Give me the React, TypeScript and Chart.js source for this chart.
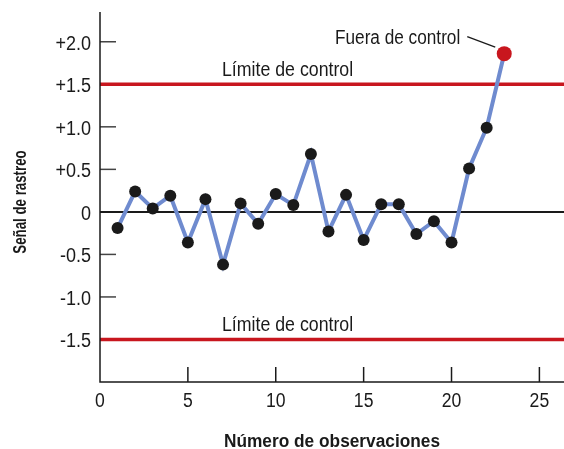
import React, { useEffect, useRef } from "react";
import { Chart, registerables } from "chart.js";

Chart.register(...registerables);

// ---- Data ----
const observations = [1, 2, 3, 4, 5, 6, 7, 8, 9, 10, 11, 12, 13, 14, 15, 16, 17, 18, 19, 20, 21, 22, 23];
const trackingSignal = [
  -0.19, 0.24, 0.04, 0.19, -0.36, 0.15, -0.62, 0.1, -0.14, 0.21, 0.08, 0.68,
  -0.23, 0.2, -0.33, 0.09, 0.09, -0.26, -0.11, -0.36, 0.51, 0.99, 1.86,
];
const yTickValues = [2.0, 1.5, 1.0, 0.5, 0, -0.5, -1.0, -1.5];
const yTickLabels = ["+2.0", "+1.5", "+1.0", "+0.5", "0", "-0.5", "-1.0", "-1.5"];
const xTickValues = [0, 5, 10, 15, 20, 25];
const xTickLabels = ["0", "5", "10", "15", "20", "25"];
const controlLimits = [1.5, -1.5];
const controlLimitLabel = "Límite de control";
const outOfControlLabel = "Fuera de control";
const xTitle = "Número de observaciones";
const yTitle = "Señal de rastreo";

// ---- Style ----
const FONT = "'Liberation Sans', Arial, sans-serif";
const RED = "#c8161e";
const BLUE = "#6f8bcf";
const INK = "#1a1a1a";

const outIndex = trackingSignal.findIndex(
  (v) => v > controlLimits[0] || v < controlLimits[1]
);

function condensedText(
  ctx: CanvasRenderingContext2D,
  text: string,
  x: number,
  y: number,
  size: number,
  sx: number,
  align: CanvasTextAlign,
  bold = false
) {
  ctx.save();
  ctx.translate(x, y);
  ctx.scale(sx, 1);
  ctx.font = `${bold ? "bold " : ""}${size}px ${FONT}`;
  ctx.textAlign = align;
  ctx.textBaseline = "alphabetic";
  ctx.fillStyle = INK;
  ctx.fillText(text, 0, 0);
  ctx.restore();
}

const decorPlugin = {
  id: "decor",
  beforeDatasetsDraw(chart: any) {
    const { ctx, chartArea, scales } = chart;
    const x = scales.x;
    const y = scales.y;
    const { left, right, top, bottom } = chartArea;
    ctx.save();
    ctx.lineCap = "butt";

    // y tick marks (inside) + labels
    ctx.strokeStyle = "#444";
    ctx.lineWidth = 1.5;
    yTickValues.forEach((v, i) => {
      const py = y.getPixelForValue(v);
      ctx.beginPath();
      ctx.moveTo(left, py);
      ctx.lineTo(left + 16, py);
      ctx.stroke();
      condensedText(ctx, yTickLabels[i], left - 9, py + 8, 20, 0.9, "right");
    });
    // x tick marks (inside) + labels
    ctx.strokeStyle = INK;
    xTickValues.forEach((v, i) => {
      const px = x.getPixelForValue(v);
      if (v !== 0) {
        ctx.beginPath();
        ctx.moveTo(px, bottom);
        ctx.lineTo(px, bottom - 15);
        ctx.stroke();
      }
      condensedText(ctx, xTickLabels[i], px, bottom + 25, 20, 0.88, "center");
    });

    // zero line
    const y0 = y.getPixelForValue(0);
    ctx.strokeStyle = INK;
    ctx.lineWidth = 2;
    ctx.beginPath();
    ctx.moveTo(left, y0);
    ctx.lineTo(right, y0);
    ctx.stroke();

    // control limits
    controlLimits.forEach((lim) => {
      const py = y.getPixelForValue(lim);
      ctx.strokeStyle = RED;
      ctx.lineWidth = 3.5;
      ctx.beginPath();
      ctx.moveTo(left, py);
      ctx.lineTo(right, py);
      ctx.stroke();
      condensedText(ctx, controlLimitLabel, left + 122, py - 8.5, 21, 0.845, "left");
    });

    // axes
    ctx.strokeStyle = INK;
    ctx.lineWidth = 1.5;
    ctx.beginPath();
    ctx.moveTo(left, top);
    ctx.lineTo(left, bottom);
    ctx.lineTo(right, bottom);
    ctx.stroke();

    // axis titles
    condensedText(ctx, xTitle, (left + right) / 2, 447, 18, 0.96, "center", true);

    ctx.save();
    ctx.translate(26, 202);
    ctx.rotate(-Math.PI / 2);
    condensedText(ctx, yTitle, 0, 0, 19, 0.7, "center", true);
    ctx.restore();

    ctx.restore();
  },
  afterDatasetsDraw(chart: any) {
    if (outIndex < 0) return;
    const { ctx } = chart;
    const pt = chart.getDatasetMeta(0).data[outIndex];
    if (!pt) return;
    const px = pt.x;
    const py = pt.y;
    ctx.save();
    condensedText(ctx, outOfControlLabel, px - 44, py - 10, 20, 0.86, "right");
    ctx.strokeStyle = INK;
    ctx.lineWidth = 1.3;
    ctx.beginPath();
    ctx.moveTo(px - 37, py - 17);
    ctx.lineTo(px - 9, py - 6.5);
    ctx.stroke();
    ctx.restore();
  },
};

export default function App() {
  const canvasRef = useRef<HTMLCanvasElement | null>(null);

  useEffect(() => {
    if (!canvasRef.current) return;
    const chart = new Chart(canvasRef.current, {
      type: "line",
      data: {
        datasets: [
          {
            data: observations.map((o, i) => ({ x: o, y: trackingSignal[i] })),
            borderColor: BLUE,
            borderWidth: 4,
            tension: 0,
            clip: false,
            pointRadius: trackingSignal.map((_, i) => (i === outIndex ? 7.5 : 6)),
            pointBackgroundColor: trackingSignal.map((_, i) => (i === outIndex ? RED : INK)),
            pointBorderWidth: 0,
            pointBorderColor: "transparent",
          },
        ],
      },
      options: {
        animation: false,
        responsive: false,
        devicePixelRatio: 1,
        events: [],
        layout: { autoPadding: false, padding: { top: 12, left: 0, right: 0, bottom: 0 } },
        plugins: { legend: { display: false }, tooltip: { enabled: false } },
        scales: {
          x: {
            type: "linear",
            min: 0,
            max: 26.4,
            grid: { display: false, drawTicks: false },
            border: { display: false },
            afterBuildTicks: (scale: any) => {
              scale.ticks = xTickValues.map((v) => ({ value: v }));
            },
            afterFit: (scale: any) => {
              scale.height = 67;
              scale.paddingLeft = 0;
              scale.paddingRight = 0;
            },
            ticks: { display: false },
          },
          y: {
            type: "linear",
            min: -2.0,
            max: 2.35,
            grid: { display: false, drawTicks: false },
            border: { display: false },
            afterBuildTicks: (scale: any) => {
              scale.ticks = yTickValues.map((v) => ({ value: v }));
            },
            afterFit: (scale: any) => {
              scale.width = 100;
              scale.paddingTop = 0;
              scale.paddingBottom = 0;
            },
            ticks: { display: false },
          },
        },
      },
      plugins: [decorPlugin],
    });
    return () => chart.destroy();
  }, []);

  return (
    <div style={{ position: "absolute", left: 0, top: 0, width: 564, height: 449, background: "#fff" }}>
      <canvas ref={canvasRef} width={564} height={449} style={{ display: "block" }} />
    </div>
  );
}
